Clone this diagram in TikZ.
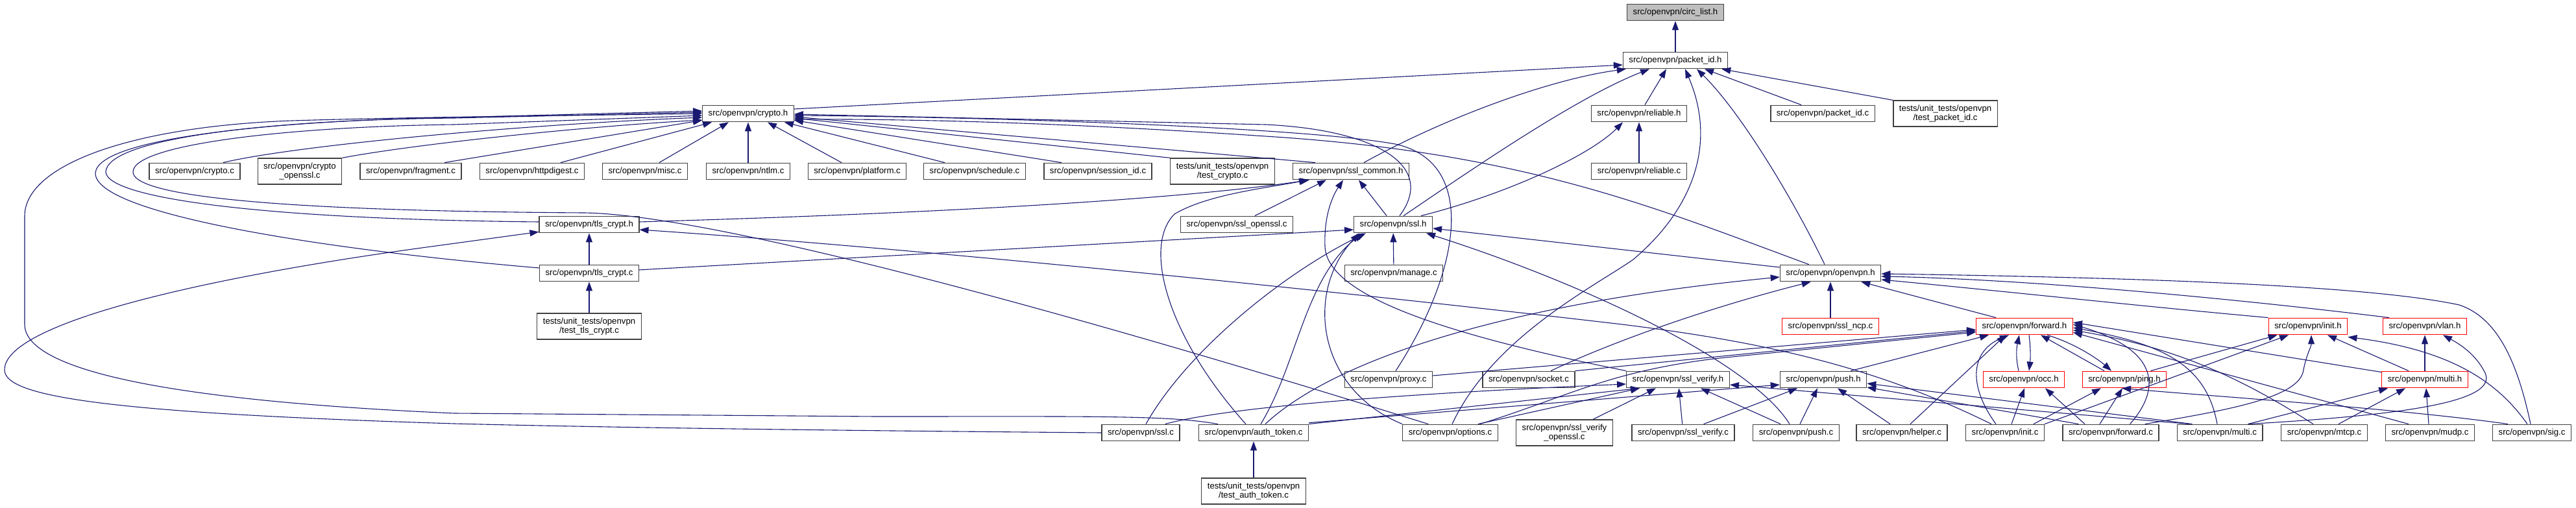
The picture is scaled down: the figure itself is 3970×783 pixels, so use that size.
\documentclass[tikz,border=0pt]{standalone}
\usepackage{fontspec}
\setmainfont{Liberation Sans}
\usetikzlibrary{arrows.meta,calc}
\definecolor{edgeblue}{HTML}{191970}
\definecolor{rootgray}{HTML}{BFBFBF}

\begin{document}
\begin{tikzpicture}[x=1pt,y=-1pt,
    file/.style={draw=black!75, line width=1.3pt, fill=white, inner xsep=9pt, inner ysep=0pt,
      minimum height=25.5pt, font=\fontsize{13.2}{14}\selectfont, align=center},
    file2/.style={file, minimum height=40pt},
    part/.style={file, draw=red},
    root/.style={file, fill=rootgray},
    inc/.style={draw=edgeblue, line width=1.1pt, -{Triangle[length=14pt,width=10pt]}}]
    \useasboundingbox (0,0) rectangle (3970,783);

    % the files
    \node[root] (circ) at (2582,19) {src/openvpn/circ\_list.h};
    \node[file] (pid_h) at (2582,93) {src/openvpn/packet\_id.h};

    \node[file] (cry_h) at (1153,175) {src/openvpn/crypto.h};
    \node[file] (rel_h) at (2526,175) {src/openvpn/reliable.h};
    \node[file] (pid_c) at (2809,175) {src/openvpn/packet\_id.c};
    \node[file2] (tpid_c) at (2998,175) {tests/unit\_tests/openvpn\\/test\_packet\_id.c};

    \node[file] (cry_c) at (300,264) {src/openvpn/crypto.c};
    \node[file2] (cryo_c) at (462,264) {src/openvpn/crypto\\\_openssl.c};
    \node[file] (frag_c) at (633,264) {src/openvpn/fragment.c};
    \node[file] (http_c) at (820,264) {src/openvpn/httpdigest.c};
    \node[file] (misc_c) at (994,264) {src/openvpn/misc.c};
    \node[file] (ntlm_c) at (1153,264) {src/openvpn/ntlm.c};
    \node[file] (plat_c) at (1321,264) {src/openvpn/platform.c};
    \node[file] (sched_c) at (1502,264) {src/openvpn/schedule.c};
    \node[file] (sess_c) at (1692,264) {src/openvpn/session\_id.c};
    \node[file2] (tcry_c) at (1884,264) {tests/unit\_tests/openvpn\\/test\_crypto.c};
    \node[file] (sslc_h) at (2082,264) {src/openvpn/ssl\_common.h};
    \node[file] (rel_c) at (2526,264) {src/openvpn/reliable.c};

    \node[file] (tls_h) at (908,346) {src/openvpn/tls\_crypt.h};
    \node[file] (sslo_c) at (1906,346) {src/openvpn/ssl\_openssl.c};
    \node[file] (ssl_h) at (2147,346) {src/openvpn/ssl.h};

    \node[file] (tls_c) at (908,421) {src/openvpn/tls\_crypt.c};
    \node[file] (man_c) at (2148,421) {src/openvpn/manage.c};
    \node[file] (ovpn_h) at (2821,421) {src/openvpn/openvpn.h};

    \node[file2] (ttls_c) at (908,503) {tests/unit\_tests/openvpn\\/test\_tls\_crypt.c};
    \node[part] (ncp_c) at (2821,503) {src/openvpn/ssl\_ncp.c};
    \node[part] (fwd_h) at (3120,503) {src/openvpn/forward.h};
    \node[part] (init_h) at (3557,503) {src/openvpn/init.h};
    \node[part] (vlan_h) at (3737,503) {src/openvpn/vlan.h};

    \node[file] (proxy_c) at (2140,585) {src/openvpn/proxy.c};
    \node[file] (sock_c) at (2356,585) {src/openvpn/socket.c};
    \node[file] (sslv_h) at (2586,585) {src/openvpn/ssl\_verify.h};
    \node[file] (push_h) at (2810,585) {src/openvpn/push.h};
    \node[part] (occ_h) at (3119,585) {src/openvpn/occ.h};
    \node[part] (ping_h) at (3274,585) {src/openvpn/ping.h};
    \node[part] (multi_h) at (3737,585) {src/openvpn/multi.h};

    \node[file] (ssl_c) at (1758,667) {src/openvpn/ssl.c};
    \node[file] (auth_c) at (1932,667) {src/openvpn/auth\_token.c};
    \node[file] (opt_c) at (2235,667) {src/openvpn/options.c};
    \node[file2] (svo_c) at (2411,667) {src/openvpn/ssl\_verify\\\_openssl.c};
    \node[file] (sslv_c) at (2594,667) {src/openvpn/ssl\_verify.c};
    \node[file] (push_c) at (2768,667) {src/openvpn/push.c};
    \node[file] (help_c) at (2931,667) {src/openvpn/helper.c};
    \node[file] (init_c) at (3090,667) {src/openvpn/init.c};
    \node[file] (fwd_c) at (3253,667) {src/openvpn/forward.c};
    \node[file] (multi_c) at (3421,667) {src/openvpn/multi.c};
    \node[file] (mtcp_c) at (3582,667) {src/openvpn/mtcp.c};
    \node[file] (mudp_c) at (3745,667) {src/openvpn/mudp.c};
    \node[file] (sig_c) at (3902,667) {src/openvpn/sig.c};

    \node[file2] (tauth_c) at (1932,757) {tests/unit\_tests/openvpn\\/test\_auth\_token.c};

    % circ_list.h, packet_id.h, reliable.h
    \draw[inc] (pid_h) -- (circ);
    \draw[inc] ($(cry_h.east)+(0,-7)$) -- ($(pid_h.west)+(0,7)$);
    \draw[inc] ($(sslc_h.north)+(20,0)$) .. controls (2230,180) and (2390,122) .. ($(pid_h.south west)+(5,0)$);
    \draw[inc] ($(ssl_h.north)+(16,0)$) .. controls (2270,260) and (2430,150) .. ($(pid_h.south)+(-40,0)$);
    \draw[inc] ($(rel_h.north)+(9,0)$) -- ($(pid_h.south)+(-14,0)$);
    \draw[inc] ($(opt_c.north)+(3,0)$) .. controls (2300,520) and (2460,440) .. (2517,400)
        .. controls (2600,330) and (2650,230) .. ($(pid_h.south)+(15,0)$);
    \draw[inc] ($(ovpn_h.north)+(-9,0)$) .. controls (2760,300) and (2680,170) .. ($(pid_h.south)+(33,0)$);
    \draw[inc] ($(pid_c.north)+(-33,0)$) -- ($(pid_h.south)+(45,0)$);
    \draw[inc] (tpid_c.north west) -- ($(pid_h.south east)+(-10,0)$);
    \draw[inc] (rel_c) -- (rel_h);
    \draw[inc] ($(ssl_h.north)+(43,0)$) .. controls (2320,300) and (2450,240) .. ($(rel_h.south)+(-25,0)$);

    % crypto.h
    \draw[inc] ($(cry_c.north)+(44,0)$) .. controls (450,225) and (800,192) .. ($(cry_h.west)+(0,6)$);
    \draw[inc] (cryo_c.north east) .. controls (640,222) and (900,195) .. ($(cry_h.west)+(0,10)$);
    \draw[inc] ($(frag_c.north)+(52,0)$) -- ($(cry_h.south west)+(0,-3)$);
    \draw[inc] ($(http_c.north)+(44,0)$) -- ($(cry_h.south west)+(15,0)$);
    \draw[inc] ($(misc_c.north)+(22,0)$) -- ($(cry_h.south)+(-30,0)$);
    \draw[inc] (ntlm_c) -- (cry_h);
    \draw[inc] ($(plat_c.north)+(-24,0)$) -- ($(cry_h.south)+(30,0)$);
    \draw[inc] ($(sched_c.north)+(-46,0)$) -- ($(cry_h.south east)+(-15,0)$);
    \draw[inc] ($(sess_c.north)+(-56,0)$) -- ($(cry_h.south east)+(0,-3)$);
    \draw[inc] (tcry_c.north west) -- ($(cry_h.east)+(0,7)$);
    \draw[inc] ($(sslc_h.north west)+(35,0)$) -- ($(cry_h.east)+(0,5)$);
    \draw[inc] ($(ssl_h.north)+(10,0)$) .. controls (2215,255) and (2120,200) .. (1950,192) -- ($(cry_h.east)+(0,1)$);
    \draw[inc] ($(proxy_c.north)+(11,0)$) .. controls (2250,420) and (2280,250) .. (2150,222)
        .. controls (2000,195) and (1500,180) .. ($(cry_h.east)+(0,3)$);
    \draw[inc] ($(ovpn_h.north west)+(45,0)$) .. controls (2550,320) and (2350,235) .. (1950,210)
        .. controls (1700,193) and (1450,183) .. ($(cry_h.east)+(0,9)$);
    \draw[inc] ($(tls_h.west)+(0,-4)$) .. controls (400,338) and (165,305) .. (163,265)
        .. controls (165,215) and (400,185) .. (700,182) -- ($(cry_h.west)+(0,-2)$);
    \draw[inc] ($(tls_c.west)+(0,-8)$) .. controls (500,385) and (147,330) .. (147,267)
        .. controls (150,210) and (450,185) .. (700,181) -- ($(cry_h.west)+(0,-4)$);
    \draw[inc] ($(opt_c.north west)+(40,0)$) .. controls (1900,560) and (1150,332) .. (900,328)
        .. controls (400,325) and (205,300) .. (205,265) .. controls (205,222) and (450,195) .. (700,192)
        -- ($(cry_h.west)+(0,3)$);
    \draw[inc] ($(auth_c.north west)+(30,0)$) .. controls (1800,640) and (1700,642) .. (1350,642) -- (700,637)
        .. controls (200,615) and (38,560) .. (38,500) -- (38,333) .. controls (38,255) and (200,195) .. (450,186)
        .. controls (650,180) and (900,178) .. (cry_h.west);

    % ssl_common.h
    \draw[inc] ($(ssl_h.north)+(-10,0)$) -- ($(sslc_h.south)+(12,0)$);
    \draw[inc] ($(sslo_c.north)+(28,0)$) -- ($(sslc_h.south)+(-38,0)$);
    \draw[inc] ($(tls_h.east)+(0,-4)$) .. controls (1400,330) and (1800,310) .. ($(sslc_h.south west)+(26,0)$);
    \draw[inc] ($(auth_c.north)+(-12,0)$) .. controls (1800,520) and (1760,380) .. (1810,330)
        .. controls (1860,300) and (1950,290) .. ($(sslc_h.south west)+(24,0)$);
    \draw[inc] (sslv_h.north west) .. controls (2250,520) and (2045,460) .. (2042,380)
        .. controls (2040,330) and (2055,300) .. ($(sslc_h.south)+(-12,0)$);

    % ssl.h
    \draw[inc] ($(tls_c.east)+(0,-5)$) -- ($(ssl_h.west)+(0,8)$);
    \draw[inc] ($(ovpn_h.west)+(0,-9)$) -- ($(ssl_h.east)+(0,6)$);
    \draw[inc] (man_c) -- (ssl_h);
    \draw[inc] ($(ssl_c.north)+(8,0)$) .. controls (1830,540) and (1980,420) .. ($(ssl_h.south)+(-42,0)$);
    \draw[inc] ($(auth_c.north)+(11,0)$) .. controls (2000,560) and (2010,430) .. ($(ssl_h.south)+(-47,0)$);
    \draw[inc] (opt_c.north west) .. controls (2030,600) and (2010,450) .. ($(ssl_h.south)+(-52,0)$);
    \draw[inc] ($(push_c.north)+(-10,0)$) .. controls (2700,560) and (2450,440) .. ($(ssl_h.south east)+(-10,0)$);

    % tls_crypt.h
    \draw[inc] (tls_c) -- (tls_h);
    \draw[inc] (ttls_c) -- (tls_c);
    \draw[inc] (ssl_c.west) .. controls (1200,663) and (900,658) .. (700,653) .. controls (150,636) and (7,610) .. (7,570)
        .. controls (7,500) and (300,430) .. (650,382) -- ($(tls_h.south west)+(0,-2)$);
    \draw[inc] ($(init_c.north)+(-21,0)$) .. controls (2880,560) and (2700,525) .. (2500,500)
        .. controls (1900,430) and (1300,375) .. ($(tls_h.east)+(0,8)$);

    % openvpn.h
    \draw[inc] (ncp_c) -- (ovpn_h);
    \draw[inc] ($(fwd_h.north west)+(31,0)$) -- ($(ovpn_h.south east)+(-31,0)$);
    \draw[inc] (init_h.north west) .. controls (3300,472) and (3100,450) .. ($(ovpn_h.east)+(0,10)$);
    \draw[inc] ($(vlan_h.north west)+(10,0)$) .. controls (3400,455) and (3100,430) .. ($(ovpn_h.east)+(0,5)$);
    \draw[inc] ($(sig_c.north)+(-2,0)$) .. controls (3880,560) and (3850,490) .. (3790,470)
        .. controls (3650,440) and (3300,428) .. ($(ovpn_h.east)+(0,1)$);
    \draw[inc] ($(sock_c.north)+(34,0)$) .. controls (2500,520) and (2650,470) .. ($(ovpn_h.south west)+(48,0)$);
    \draw[inc] ($(auth_c.north)+(18,0)$) .. controls (2050,560) and (2300,470) .. ($(ovpn_h.west)+(0,6)$);

    % ssl_verify.h
    \draw[inc] ($(ssl_c.north east)+(-23,0)$) .. controls (1900,625) and (2200,605) .. ($(sslv_h.west)+(0,7)$);
    \draw[inc] (auth_c.north east) -- ($(sslv_h.south west)+(21,0)$);
    \draw[inc] ($(opt_c.north east)+(-31,0)$) -- ($(sslv_h.south west)+(21,0)$);
    \draw[inc] ($(svo_c.north)+(44,0)$) -- ($(sslv_h.south)+(-34,0)$);
    \draw[inc] (sslv_c) -- (sslv_h);
    \draw[inc] ($(push_c.north west)+(43,0)$) -- ($(sslv_h.south east)+(-45,0)$);
    \draw[inc] ($(multi_c.north west)+(20,0)$) -- ($(sslv_h.east)+(0,8)$);

    % push.h
    \draw[inc] ($(sslv_c.north east)+(-48,0)$) -- ($(push_h.south)+(-40,0)$);
    \draw[inc] ($(push_c.north)+(6,0)$) -- ($(push_h.south)+(-9,0)$);
    \draw[inc] ($(help_c.north)+(-18,0)$) -- ($(push_h.south)+(22,0)$);
    \draw[inc] ($(auth_c.north east)+(0,-2)$) -- ($(push_h.west)+(0,8)$);
    \draw[inc] ($(fwd_c.north west)+(25,0)$) -- ($(push_h.east)+(0,12)$);
    \draw[inc] ($(multi_c.north west)+(24,0)$) -- ($(push_h.east)+(0,6)$);

    % forward.h
    \draw[inc] ($(proxy_c.east)+(0,-6)$) -- ($(fwd_h.west)+(0,5)$);
    \draw[inc] (sock_c.north east) -- ($(fwd_h.west)+(0,7)$);
    \draw[inc] ($(opt_c.north east)+(-28,0)$) .. controls (2420,610) and (2480,572) .. (2650,552) -- ($(fwd_h.west)+(0,9)$);
    \draw[inc] ($(push_h.north east)+(-25,0)$) -- ($(fwd_h.south west)+(20,0)$);
    \draw[inc] ($(help_c.north)+(13,0)$) -- ($(fwd_h.south)+(-29,0)$);
    \draw[inc] ($(init_c.north)+(-14,0)$) .. controls (3030,590) and (3040,540) .. ($(fwd_h.south)+(-24,0)$);
    \draw[inc] ($(occ_h.north)+(-8,0)$) .. controls (3106,550) and (3108,535) .. ($(fwd_h.south)+(-8,0)$);
    \draw[inc] ($(fwd_h.south)+(7,0)$) .. controls (3130,540) and (3129,555) .. ($(occ_h.north)+(8,0)$);
    \draw[inc] ($(ping_h.north)+(-31,0)$) -- ($(fwd_h.south)+(25,0)$);
    \draw[inc] ($(fwd_h.south)+(35,0)$) .. controls (3200,530) and (3235,555) .. ($(ping_h.north)+(-20,0)$);
    \draw[inc] ($(fwd_c.north east)+(-45,0)$) .. controls (3330,600) and (3330,540) .. ($(fwd_h.east)+(0,-3)$);
    \draw[inc] ($(multi_c.north)+(-4,0)$) .. controls (3400,560) and (3330,530) .. ($(fwd_h.east)+(0,2)$);
    \draw[inc] ($(mtcp_c.north)+(-17,0)$) .. controls (3450,580) and (3350,535) .. ($(fwd_h.east)+(0,6)$);
    \draw[inc] ($(mudp_c.north)+(-33,0)$) -- ($(fwd_h.south east)+(0,-4)$);
    \draw[inc] ($(multi_h.north west)+(0,2)$) -- ($(fwd_h.east)+(0,-6)$);

    % occ.h, ping.h
    \draw[inc] ($(init_c.north)+(10,0)$) -- ($(occ_h.south)+(1,0)$);
    \draw[inc] ($(fwd_c.north)+(-40,0)$) -- ($(occ_h.south)+(33,0)$);
    \draw[inc] ($(init_c.north east)+(-17,0)$) -- ($(ping_h.south)+(-36,0)$);
    \draw[inc] ($(fwd_c.north)+(-17,0)$) -- ($(ping_h.south)+(-3,0)$);
    \draw[inc] ($(sig_c.north west)+(24,0)$) .. controls (3700,630) and (3400,610) .. ($(ping_h.south)+(-4,0)$);

    % init.h
    \draw[inc] ($(ping_h.north east)+(-25,0)$) -- ($(init_h.south west)+(14,0)$);
    \draw[inc] (init_c.north east) -- ($(init_h.south)+(-30,0)$);
    \draw[inc] ($(fwd_c.north east)+(-22,0)$) .. controls (3450,630) and (3545,610) .. (3550,570)
        .. controls (3555,545) and (3562,535) .. ($(init_h.south)+(5,0)$);
    \draw[inc] ($(multi_h.north)+(-25,0)$) -- ($(init_h.south)+(30,0)$);
    \draw[inc] ($(sig_c.north)+(-7,0)$) .. controls (3850,590) and (3780,540) .. ($(init_h.south east)+(0,3)$);

    % vlan.h, multi.h
    \draw[inc] (multi_h) -- (vlan_h);
    \draw[inc] ($(multi_c.north east)+(-23,0)$) .. controls (3700,640) and (3850,620) .. (3830,575)
        .. controls (3815,545) and (3790,530) .. ($(vlan_h.south)+(28,0)$);
    \draw[inc] ($(multi_c.north east)+(-23,0)$) -- ($(multi_h.south west)+(10,0)$);
    \draw[inc] ($(mtcp_c.north)+(22,0)$) -- ($(multi_h.south)+(-30,0)$);
    \draw[inc] ($(mudp_c.north)+(-2,0)$) -- ($(multi_h.south)+(2,0)$);

    \draw[inc] (tauth_c) -- (auth_c);
\end{tikzpicture}
\end{document}
